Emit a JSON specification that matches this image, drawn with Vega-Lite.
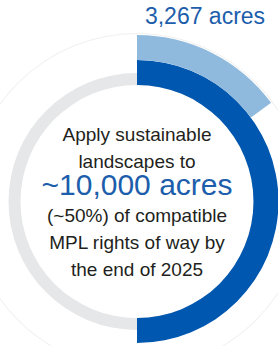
{
  "$schema": "https://vega.github.io/schema/vega-lite/v6.json",
  "width": 274,
  "height": 289,
  "autosize": {"type": "none"},
  "padding": {"top": 57, "left": 0, "right": 4, "bottom": 0},
  "background": "white",
  "config": {"view": {"stroke": null}, "text": {"font": "Liberation Sans"}},
  "layer": [
    {
      "data": {"values": [{"ring": "outline", "share": 1}]},
      "mark": {"type": "arc", "radius": 168.5, "radius2": 167.5, "fill": "#f0f0f0"},
      "encoding": {"theta": {"field": "share", "type": "quantitative", "scale": {"domain": [0, 1]}}}
    },
    {
      "data": {"values": [{"ring": "total", "share": 1}]},
      "mark": {"type": "arc", "radius": 128.5, "radius2": 116.5, "fill": "#e6e7e9"},
      "encoding": {"theta": {"field": "share", "type": "quantitative", "scale": {"domain": [0, 1]}}}
    },
    {
      "data": {"values": [{"ring": "target", "share": 0.5}]},
      "mark": {"type": "arc", "radius": 141.5, "radius2": 116.5, "fill": "#0057b0"},
      "encoding": {"theta": {"field": "share", "type": "quantitative", "scale": {"domain": [0, 1]}}}
    },
    {
      "data": {"values": [{"ring": "progress", "share": 0.149}]},
      "mark": {"type": "arc", "radius": 166.5, "radius2": 141.5, "fill": "#8fbadd"},
      "encoding": {"theta": {"field": "share", "type": "quantitative", "scale": {"domain": [0, 1]}}}
    },
    {
      "data": {"values": [{"text": "3,267 acres", "line": 0}]},
      "mark": {"type": "text", "fontSize": 23, "fill": "#1c5eab", "align": "center", "baseline": "alphabetic", "dx": 68, "dy": -90},
      "encoding": {
        "y": {"field": "line", "type": "quantitative", "scale": {"domain": [0, 10], "range": [57, 327]}, "axis": null},
        "text": {"field": "text"}
      }
    },
    {
      "data": {"values": [{"text": "Apply sustainable", "line": 1}, {"text": "landscapes to", "line": 2}, {"text": "(~50%) of compatible", "line": 4}, {"text": "MPL rights of way by", "line": 5}, {"text": "the end of 2025", "line": 6}]},
      "mark": {"type": "text", "fontSize": 19, "fill": "#231f20", "align": "center", "baseline": "alphabetic"},
      "encoding": {
        "y": {"field": "line", "type": "quantitative", "scale": {"domain": [0, 10], "range": [57, 327]}, "axis": null},
        "text": {"field": "text"}
      }
    },
    {
      "data": {"values": [{"text": "~10,000 acres", "line": 3}]},
      "mark": {"type": "text", "fontSize": 30, "fill": "#1c5eab", "align": "center", "baseline": "alphabetic"},
      "encoding": {
        "y": {"field": "line", "type": "quantitative", "scale": {"domain": [0, 10], "range": [57, 327]}, "axis": null},
        "text": {"field": "text"}
      }
    }
  ]
}
